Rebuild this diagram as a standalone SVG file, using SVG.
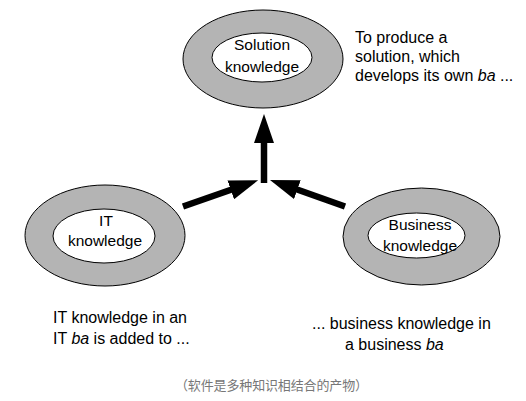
<svg xmlns="http://www.w3.org/2000/svg" width="526" height="401" viewBox="0 0 526 401">
<style>
.outer{fill:#b4b4b4;stroke:#000;stroke-width:1}
.inner{fill:#fff;stroke:#000;stroke-width:1}
.lbl{font-family:"Liberation Sans",Arial,sans-serif;font-size:15.5px;fill:#000;text-anchor:middle}
.note{font-family:"Liberation Sans",Arial,sans-serif;font-size:16px;fill:#000}
.cap{font-family:"Noto Sans CJK SC","Liberation Sans",sans-serif;font-size:13px;fill:#777}
.arr{stroke:#000;stroke-width:6.5;fill:none;marker-end:url(#head)}
</style>
<defs>
<marker id="head" viewBox="0 0 29 20" refX="1" refY="10" markerWidth="29" markerHeight="20" markerUnits="userSpaceOnUse" orient="auto">
<path d="M0,0 L29,10 L0,20 z" fill="#000"/>
</marker>
</defs>
<rect width="526" height="401" fill="#fff"/>
<g id="solution">
<ellipse class="outer" cx="263" cy="59" rx="80" ry="49"/>
<ellipse class="inner" cx="262" cy="57.5" rx="50" ry="24.5"/>
<text class="lbl" x="262" y="50">Solution</text>
<text class="lbl" x="262" y="71.5">knowledge</text>
</g>
<g id="it">
<ellipse class="outer" cx="105" cy="235.5" rx="80" ry="50.5"/>
<ellipse class="inner" cx="104" cy="236" rx="51" ry="27"/>
<text class="lbl" x="106" y="225.5">IT</text>
<text class="lbl" x="105" y="246">knowledge</text>
</g>
<g id="business">
<ellipse class="outer" cx="421.5" cy="236.5" rx="78.5" ry="48.5"/>
<ellipse class="inner" cx="416.5" cy="235.5" rx="48.5" ry="22.5"/>
<text class="lbl" x="420" y="229.5">Business</text>
<text class="lbl" x="420" y="250.5">knowledge</text>
</g>
<g id="connectors">
<line class="arr" x1="264" y1="183" x2="264" y2="142"/>
<line class="arr" x1="183" y1="206.5" x2="231.7" y2="189.5"/>
<line class="arr" x1="345" y1="206.5" x2="296.4" y2="189.3"/>
</g>
<g id="notes">
<text class="note" x="355" y="43">To produce a</text>
<text class="note" x="355" y="62">solution, which</text>
<text class="note" x="355" y="81">develops its own <tspan font-style="italic">ba</tspan> ...</text>
<text class="note" x="53" y="323">IT knowledge in an</text>
<text class="note" x="53" y="343.5">IT <tspan font-style="italic">ba</tspan> is added to ...</text>
<text class="note" x="312" y="329">... business knowledge in</text>
<text class="note" x="345" y="350">a business <tspan font-style="italic">ba</tspan></text>
<text class="cap" x="175" y="390" textLength="193">（软件是多种知识相结合的产物）</text>
</g>
</svg>
